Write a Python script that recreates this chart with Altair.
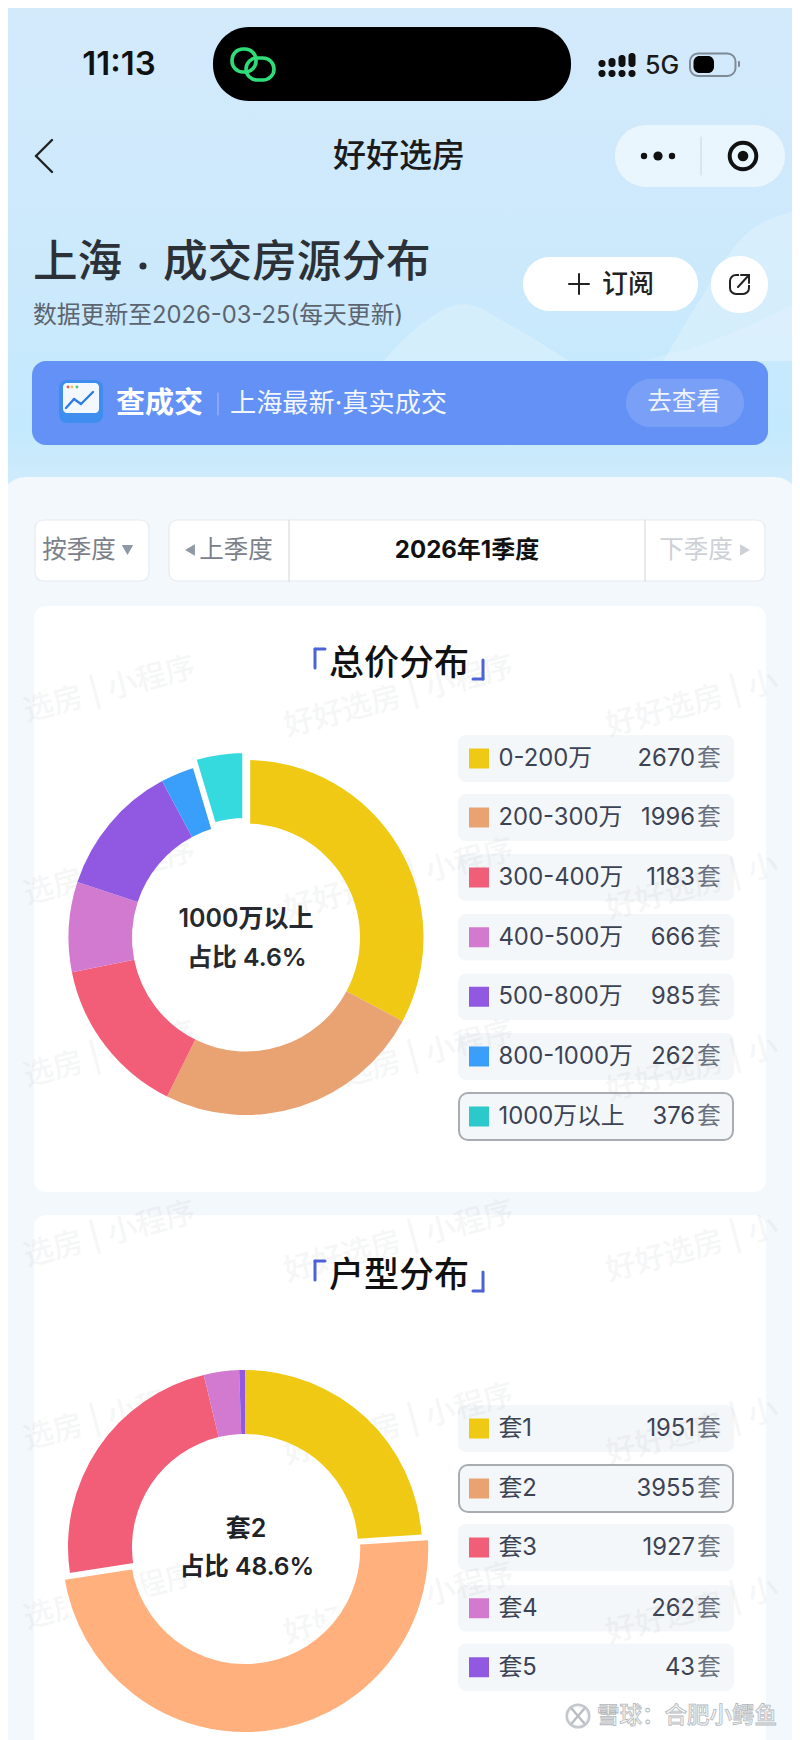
import math
import altair as alt
import pandas as pd

# ---- data ----
PRICE_LABELS = ["0-200万", "200-300万", "300-400万", "400-500万", "500-800万", "800-1000万", "1000万以上"]
PRICE_COUNTS = [2670, 1996, 1183, 666, 985, 262, 376]
ROOM_LABELS = ["套1", "套2", "套3", "套4", "套5"]
ROOM_COUNTS = [1951, 3955, 1927, 262, 43]
PALETTE = ["#EFC914", "#E9A272", "#F25D78", "#D27ACF", "#9159E2", "#3A9FFB", "#2CC9CB"]
PRICE_PCT = "4.6%"
ROOM_PCT = "48.6%"

FONT = "Inter, 'Noto Sans CJK SC'"
O = 8
ONE = pd.DataFrame({"k": [0]})
layers = []


def rect(x0, y0, x1, y1, fill, r=0, stroke=None, sw=0, op=1.0):
    kw = dict(cornerRadius=r, opacity=op)
    if fill is not None:
        kw["color"] = fill
    else:
        kw["fillOpacity"] = 0
    if stroke:
        kw.update(stroke=stroke, strokeWidth=sw)
    layers.append(alt.Chart(ONE).mark_rect(**kw).encode(
        x=alt.value(x0 - O), x2=alt.value(x1 - O), y=alt.value(y0 - O), y2=alt.value(y1 - O)))


def txt(s, x, y, size, color, align="center", weight=400, angle=0, op=1.0, **extra):
    layers.append(alt.Chart(ONE).mark_text(
        text=s, font=FONT, fontSize=size, color=color, align=align, baseline="middle",
        fontWeight=weight, angle=angle, opacity=op, **extra).encode(
        x=alt.value(x - O), y=alt.value(y - O)))


def seg(x0, y0, x1, y1, color, w=2.0, op=1.0):
    layers.append(alt.Chart(ONE).mark_rule(color=color, strokeWidth=w, strokeCap="round", opacity=op).encode(
        x=alt.value(x0 - O), x2=alt.value(x1 - O), y=alt.value(y0 - O), y2=alt.value(y1 - O)))


def dot(x, y, r, fill=None, stroke=None, sw=0):
    size = math.pi * r * r
    if fill:
        m = alt.Chart(ONE).mark_circle(size=size, color=fill, opacity=1)
    else:
        m = alt.Chart(ONE).mark_point(size=size, shape="circle", color=stroke, strokeWidth=sw, opacity=1, fillOpacity=0)
    layers.append(m.encode(x=alt.value(x - O), y=alt.value(y - O)))


def tri(x, y, shape, size, color):
    layers.append(alt.Chart(ONE).mark_point(shape=shape, size=size, filled=True, color=color, opacity=1).encode(
        x=alt.value(x - O), y=alt.value(y - O)))


def hill(xs, ys, base, op):
    d = pd.DataFrame({"hx": xs, "hy": ys, "hb": [base] * len(xs)})
    layers.append(alt.Chart(d).mark_area(interpolate="monotone", color="#FFFFFF", opacity=op).encode(
        x=alt.X("hx:Q", axis=None, scale=alt.Scale(domain=[O, 792], range=[0, 784])),
        y=alt.Y("hy:Q", axis=None, scale=alt.Scale(domain=[O, 1740], range=[0, 1732])),
        y2="hb:Q"))


# ---- page background ----
grad = alt.LinearGradient(gradient="linear", x1=0, x2=0, y1=0, y2=1, stops=[
    alt.GradientStop(color="#D3EAFB", offset=0),
    alt.GradientStop(color="#CBE9FC", offset=0.6),
    alt.GradientStop(color="#C3E9FD", offset=0.85),
    alt.GradientStop(color="#D2ECFB", offset=1)])
layers.append(alt.Chart(ONE).mark_rect(color=grad).encode(
    x=alt.value(0), x2=alt.value(784), y=alt.value(0), y2=alt.value(500 - O)))

hill([383, 420, 464, 510, 569], [361, 325, 304, 325, 361], 361, 0.22)
hill([663, 700, 740, 792], [361, 300, 240, 212], 361, 0.22)
hill([640, 700, 792], [361, 345, 305], 361, 0.15)

# status bar
txt("11:13", 119, 65, 33, "#111111", weight=600)
rect(213, 27, 571, 101, "#000000", r=36)
rect(232, 49, 256, 72, None, r=11, stroke="#2FDC78", sw=3.6)
rect(246, 58, 274, 80, None, r=11, stroke="#2FDC78", sw=3.6)
for cx, top in zip([602, 612, 622, 632], [60, 58, 55, 53]):
    rect(cx - 3.5, top, cx + 3.5, 67, "#111111", r=3)
    rect(cx - 3.5, 70, cx + 3.5, 77, "#111111", r=3)
txt("5G", 662, 66, 25, "#1A1A1A", weight=500)
rect(690, 53.5, 735.5, 76, None, r=8, stroke="#7E8A96", sw=2)
rect(693.5, 56, 714, 73, "#000000", r=6)
rect(738, 61, 740, 67, "#7E8A96", r=1)

# nav bar
seg(52, 140, 36, 156, "#222222", 2.4)
seg(36, 156, 52, 172, "#222222", 2.4)
txt("好好选房", 399, 157, 33, "#1B1B1B", weight=500)
rect(615, 125, 785, 187, "#FFFFFF", r=31, op=0.55)
dot(644, 156, 3.6, fill="#111111")
dot(658, 156, 5.2, fill="#111111")
dot(672, 156, 3.6, fill="#111111")
seg(701, 137, 701, 175, "#C9D6E0", 1)
dot(743, 156, 15, stroke="#111111", sw=4)
dot(743, 156, 6, fill="#111111")

# heading
txt("上海", 33, 264, 44.6, "#2B3137", align="left", weight=500)
dot(143, 266, 4, fill="#2B3137")
txt("成交房源分布", 163, 264, 44.6, "#2B3137", align="left", weight=500)
txt("数据更新至2026-03-25(每天更新)", 33, 316, 23.8, "#5C6470", align="left")
rect(523, 257, 698, 311, "#FFFFFF", r=27)
seg(579, 274, 579, 294, "#222222", 2)
seg(569, 284, 589, 284, "#222222", 2)
txt("订阅", 628, 285, 26, "#222222", weight=500)
rect(711, 256, 768, 313, "#FFFFFF", r=28)
rect(730, 275, 749, 294, None, r=6, stroke="#222222", sw=2)
rect(739, 271, 752, 285, "#FFFFFF")
seg(738, 287, 749, 275, "#222222", 2)
seg(741, 275, 749, 275, "#222222", 2)
seg(749, 275, 749, 283, "#222222", 2)

# banner
rect(32, 361, 768, 445, "#6391F5", r=14)
rect(59, 380, 103, 423, "#3F8EEF", r=8)
rect(63, 383, 99, 413, "#F3F8FF", r=4)
seg(66, 408, 74, 399, "#2E7CE8", 2.4)
seg(74, 399, 81, 404, "#2E7CE8", 2.4)
seg(81, 404, 93, 392, "#2E7CE8", 2.4)
dot(68, 387, 1.6, fill="#E8604C")
dot(72, 387, 1.6, fill="#F2C14E")
dot(77, 387, 1.6, fill="#55C27A")
txt("查成交", 116, 404, 29, "#FFFFFF", align="left", weight=700)
seg(218, 393, 218, 415, "#FFFFFF", 1, op=0.45)
txt("上海最新·真实成交", 230, 404, 26.2, "#FFFFFF", align="left", op=0.92)
rect(626, 379, 744, 427, "#FFFFFF", r=24, op=0.14)
txt("去查看", 684, 403, 24.5, "#FFFFFF", op=0.88)

# panel
rect(0, 477, 800, 1800, "#F3F8FC", r=26)

# period selector
rect(35, 520, 149, 581, "#FFFFFF", r=8, stroke="#E6EAEE", sw=1.2)
txt("按季度", 79, 551, 24.5, "#7B818A")
tri(127.5, 550, "triangle-down", 130, "#8E98A6")
rect(169, 520, 765, 581, "#FFFFFF", r=8, stroke="#E6EAEE", sw=1.2)
seg(289, 520, 289, 581, "#D8DCE0", 1.2)
seg(645, 520, 645, 581, "#D8DCE0", 1.2)
tri(190, 550, "triangle-left", 130, "#8E98A6")
txt("上季度", 236, 551, 24.5, "#7B818A")
txt("2026年1季度", 467, 551, 24, "#111111", weight=700)
txt("下季度", 696, 551, 24.5, "#CDD1D6")
tri(745, 550, "triangle-right", 130, "#CDD1D6")

# cards
rect(34, 606, 766, 1192, "#FFFFFF", r=12)
rect(34, 1215, 766, 1800, "#FFFFFF", r=12)


def legend_rows(labels, counts, tops, bottoms, active):
    for i, (lab, cnt, t, b) in enumerate(zip(labels, counts, tops, bottoms)):
        if i == active:
            rect(459, t, 733, b, "#F4F7F9", r=9, stroke="#A9ADB1", sw=2)
        else:
            rect(458, t, 734, b, "#F4F7F9", r=8)
        m = (t + b) / 2
        rect(469, m - 10, 489, m + 10, PALETTE[i])
        txt(lab, 498.5, m + 0.5, 23.8, "#3C4354", align="left")
        txt(str(cnt), 695, m + 0.5, 23.8, "#3C4354", align="right")
        txt("套", 709, m + 0.5, 23.8, "#6B7280")


legend_rows(PRICE_LABELS, PRICE_COUNTS,
            [735, 794, 854, 914, 973.5, 1033, 1093], [782, 841, 901, 960.5, 1020, 1080, 1140], 6)
legend_rows(ROOM_LABELS, ROOM_COUNTS,
            [1405, 1465, 1524, 1585, 1643.5], [1452, 1512, 1571, 1631.5, 1691], 1)

# watermarks
WM = "#8A8F98"
for cy in [697, 880, 1062, 1242, 1425, 1604]:
    txt("好好选房 | 小程序", 399, cy, 30, WM, angle=345, op=0.075, weight=500)
    txt("选房 | 小程序", 195, cy - 30, 30, WM, align="right", angle=345, op=0.075, weight=500)
    txt("好好选房 | 小", 607, cy + 30, 30, WM, align="left", angle=345, op=0.075, weight=500)


# card titles
def card_title(s, cy):
    txt(s, 399, cy, 35, "#111111", weight=500)
    seg(315, cy - 15, 315, cy + 4, "#4D62D6", 3)
    seg(315, cy - 15, 325, cy - 15, "#4D62D6", 3)
    seg(483, cy - 4, 483, cy + 15, "#4D62D6", 3)
    seg(473, cy + 15, 483, cy + 15, "#4D62D6", 3)


card_title("总价分布", 664)
card_title("户型分布", 1276)


# donuts
def slices(labels, counts):
    total = sum(counts)
    run = 0
    rows = []
    for lab, c in zip(labels, counts):
        rows.append({"name": lab, "t0": run / total, "t1": (run + c) / total})
        run += c
    return pd.DataFrame(rows)


theta_scale = alt.Scale(domain=[0, 1], range=[0, 2 * math.pi])
color_scale = alt.Scale(domain=PRICE_LABELS + ROOM_LABELS,
                        range=PALETTE + PALETTE[:len(ROOM_LABELS)])


def donut(labels, counts, cx, cy, ro, ri, active, hi_color, shift, ro_a, ri_a, stroke_w, sliver=False):
    df = slices(labels, counts)
    rest = df[df["name"] != labels[active]]
    act = df[df["name"] == labels[active]]
    layers.append(alt.Chart(rest).mark_arc(innerRadius=ri, outerRadius=ro).encode(
        theta=alt.Theta("t0:Q", scale=theta_scale), theta2="t1:Q",
        color=alt.Color("name:N", scale=color_scale, legend=None),
        x=alt.value(cx - O), y=alt.value(cy - O)))
    if sliver:
        rect(cx, cy - ro - 2, cx + 4.2, cy - ri + 2, "#FFFFFF")
    mid = (act["t0"].iloc[0] + act["t1"].iloc[0]) * math.pi
    ax = cx + shift * math.sin(mid)
    ay = cy - shift * math.cos(mid)
    layers.append(alt.Chart(act).mark_arc(innerRadius=ri_a, outerRadius=ro_a, color=hi_color,
                                          stroke="#FFFFFF", strokeWidth=stroke_w).encode(
        theta=alt.Theta("t0:Q", scale=theta_scale), theta2="t1:Q",
        x=alt.value(ax - O), y=alt.value(ay - O)))


donut(PRICE_LABELS, PRICE_COUNTS, 246, 937.5, 177.5, 114, 6, "#35DADF", 5, 182.5, 111.5, 6, sliver=True)
donut(ROOM_LABELS, ROOM_COUNTS, 245, 1547, 177, 113, 1, "#FFB07C", 2, 186, 112, 6)

txt(PRICE_LABELS[6], 246, 919, 25, "#26292D", weight=600)
txt("占比 " + PRICE_PCT, 247, 959, 24.8, "#26292D", weight=600)
txt(ROOM_LABELS[1], 246, 1529, 25, "#1F2226", weight=600)
txt("占比 " + ROOM_PCT, 247, 1568, 24.6, "#1F2226", weight=600)

# site stamp
dot(578, 1716, 12.5, stroke="#C4C8CC", sw=3)
dot(578, 1716, 10.5, stroke="#F6F6F6", sw=1.5)
seg(572, 1709, 584, 1723, "#B9BDC2", 2.4)
seg(584, 1709, 572, 1723, "#B9BDC2", 2.4)
txt("雪球：合肥小鳄鱼", 597, 1716, 22.5, "#F6F7F8", align="left", weight=500, stroke="#B4B8BD", strokeWidth=0.8)

chart = alt.layer(*layers).properties(
    width=784, height=1732, padding=0,
    autosize=alt.AutoSizeParams(type="none"),
    background="#C9E8FC"
).configure_view(stroke=None)

chart.save("out.html", embed_options={"renderer": "svg", "actions": False})
